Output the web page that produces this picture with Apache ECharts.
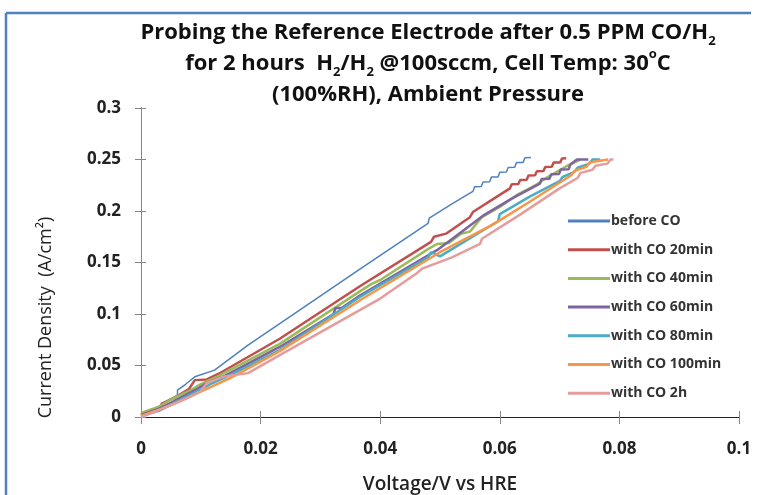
<!DOCTYPE html>
<html>
<head>
<meta charset="utf-8">
<title>Probing the Reference Electrode</title>
<script src="https://cdn.jsdelivr.net/npm/echarts@6/dist/echarts.min.js"></script>
<style>
  html, body { margin: 0; padding: 0; background: #fff; overflow: hidden; }
  #chart { width: 759px; height: 495px; }
</style>
</head>
<body>
<div id="chart"></div>
<script>
// series names (legend)
const seriesNames = ['before CO', 'with CO 20min', 'with CO 40min', 'with CO 60min',
  'with CO 80min', 'with CO 100min', 'with CO 2h'];
const seriesColors = ['#4F81BD', '#C0504D', '#9BBB59', '#8064A2', '#4BACC6', '#F79646', '#E59C9C'];

// [voltage (V), current density (A/cm2)]
const beforeCO = [[0, 0.0036], [0.002, 0.007], [0.004, 0.014], [0.0061, 0.0213], [0.0061, 0.026],
  [0.0075, 0.032], [0.009, 0.039], [0.0123, 0.0455], [0.0179, 0.0697], [0.0232, 0.0907],
  [0.0366, 0.1435], [0.048, 0.188], [0.0482, 0.193], [0.052, 0.207], [0.0555, 0.219],
  [0.0558, 0.2235], [0.0569, 0.2237], [0.0572, 0.2282], [0.0583, 0.2284], [0.0586, 0.2329],
  [0.0597, 0.2331], [0.06, 0.2376], [0.0611, 0.2378], [0.0614, 0.2423], [0.0625, 0.2425],
  [0.0628, 0.247], [0.0639, 0.2472], [0.0642, 0.2517], [0.0652, 0.252]];
const co20min = [[0, 0.002], [0.003, 0.008], [0.0035, 0.013], [0.006, 0.02], [0.008, 0.027],
  [0.009, 0.0358], [0.011, 0.0365], [0.013, 0.042], [0.0232, 0.076], [0.0366, 0.127],
  [0.0485, 0.17], [0.049, 0.175], [0.051, 0.178], [0.055, 0.194], [0.0555, 0.199],
  [0.059, 0.212], [0.0617, 0.222], [0.062, 0.226], [0.0631, 0.2262], [0.0634, 0.2302],
  [0.0645, 0.2304], [0.0648, 0.2344], [0.0659, 0.2346], [0.0662, 0.2386], [0.0673, 0.2388],
  [0.0676, 0.2428], [0.0687, 0.243], [0.069, 0.247], [0.0701, 0.2472], [0.0704, 0.251],
  [0.0711, 0.2512]];
const co40min = [[0, 0.004], [0.003, 0.01], [0.005, 0.017], [0.008, 0.025], [0.01, 0.032],
  [0.013, 0.04], [0.0232, 0.071], [0.0366, 0.122], [0.0385, 0.129], [0.04, 0.133],
  [0.048, 0.163], [0.0495, 0.168], [0.0515, 0.169], [0.0535, 0.178], [0.055, 0.18],
  [0.057, 0.194], [0.06, 0.204], [0.0631, 0.2165], [0.0653, 0.223], [0.0662, 0.226],
  [0.068, 0.233], [0.071, 0.243], [0.0735, 0.25]];
const co60min = [[0, 0.002], [0.003, 0.008], [0.006, 0.017], [0.009, 0.026], [0.011, 0.033],
  [0.014, 0.04], [0.0232, 0.068], [0.0322, 0.1], [0.0325, 0.1055], [0.0336, 0.106],
  [0.0366, 0.118], [0.0495, 0.162], [0.0572, 0.1955], [0.062, 0.212], [0.0667, 0.2265],
  [0.067, 0.231], [0.0683, 0.2312], [0.0686, 0.2357], [0.0699, 0.2359], [0.0702, 0.2404],
  [0.0715, 0.2406], [0.0718, 0.2451], [0.0729, 0.25], [0.0748, 0.25]];
const co80min = [[0, 0.001], [0.003, 0.006], [0.006, 0.015], [0.009, 0.024], [0.012, 0.033],
  [0.015, 0.041], [0.0232, 0.065], [0.0366, 0.1165], [0.048, 0.155], [0.0485, 0.16],
  [0.05, 0.156], [0.052, 0.163], [0.0597, 0.19], [0.06, 0.197], [0.065, 0.214],
  [0.07, 0.229], [0.0705, 0.233], [0.0725, 0.238], [0.073, 0.242], [0.075, 0.246],
  [0.0755, 0.25], [0.0768, 0.25]];
const co100min = [[0, 0.001], [0.003, 0.007], [0.006, 0.014], [0.009, 0.022], [0.012, 0.03],
  [0.015, 0.038], [0.0232, 0.064], [0.0371, 0.115], [0.05, 0.16], [0.0589, 0.187],
  [0.065, 0.209], [0.072, 0.235], [0.0725, 0.239], [0.0745, 0.243], [0.075, 0.247],
  [0.077, 0.249], [0.0781, 0.25]];
const co2h = [[0, 0], [0.001, 0.002], [0.003, 0.007], [0.006, 0.014], [0.008, 0.019],
  [0.01, 0.025], [0.011, 0.033], [0.0137, 0.039], [0.0179, 0.0426], [0.0232, 0.06],
  [0.04, 0.115], [0.046, 0.139], [0.047, 0.144], [0.052, 0.155], [0.0567, 0.168],
  [0.057, 0.173], [0.063, 0.195], [0.07, 0.222], [0.073, 0.232], [0.0735, 0.237],
  [0.0755, 0.24], [0.076, 0.244], [0.078, 0.246], [0.0785, 0.25], [0.079, 0.25]];

const seriesData = [beforeCO, co20min, co40min, co60min, co80min, co100min, co2h];
const lineWidths = [1.5, 2.5, 2.5, 2.5, 2.5, 2.5, 2.5];

const xTicks = { min: 0, max: 0.1, interval: 0.02 };
const yTicks = { min: 0, max: 0.3, interval: 0.05 };

const myChart = echarts.init(document.getElementById('chart'));
const font = 'Open Sans';
const axisGray = '#868686';
const frameBlue = '#4F81BD';

const option = {
  animation: false,
  backgroundColor: '#fff',
  // blue frame of the original figure (only top and left edges are in view)
  graphic: [{
    type: 'line',
    shape: { x1: 6, y1: 13, x2: 751, y2: 13 },
    style: { stroke: frameBlue, lineWidth: 2.5 },
    silent: true
  }, {
    type: 'line',
    shape: { x1: 6, y1: 13, x2: 6, y2: 495 },
    style: { stroke: frameBlue, lineWidth: 2.5 },
    silent: true
  }],
  title: {
    text: 'Probing the Reference Electrode after 0.5 PPM CO/H{sub|2}\n' +
      'for 2 hours  H{sub|2}/H{sub|2} @100sccm, Cell Temp: 30{sup|o}C\n' +
      '(100%RH), Ambient Pressure',
    left: 428,
    top: 17,
    textAlign: 'center',
    padding: 0,
    textStyle: {
      fontFamily: font, fontSize: 22, fontWeight: 'bold', color: '#111', lineHeight: 31,
      rich: {
        sub: { fontFamily: font, fontSize: 13, fontWeight: 'bold', color: '#111', verticalAlign: 'bottom', lineHeight: 31 },
        sup: { fontFamily: font, fontSize: 13, fontWeight: 'bold', color: '#111', verticalAlign: 'top', lineHeight: 31 }
      }
    }
  },
  legend: {
    orient: 'vertical',
    left: 563,
    top: 208,
    icon: 'rect',
    itemWidth: 42,
    itemHeight: 3,
    itemGap: 12.7,
    data: seriesNames,
    textStyle: { fontFamily: font, fontSize: 14, fontWeight: 'bold', color: '#333', lineHeight: 16, padding: [0, 0, 0, -4] }
  },
  grid: { left: 141, right: 20, top: 108, bottom: 78, outerBoundsMode: 'none' },
  xAxis: [{
    type: 'value',
    min: xTicks.min, max: xTicks.max, interval: xTicks.interval,
    position: 'bottom',
    name: 'Voltage/V vs HRE',
    nameLocation: 'middle',
    nameGap: 58,
    nameTextStyle: { fontFamily: font, fontSize: 19, fontWeight: 600, color: '#222' },
    axisLine: { lineStyle: { color: axisGray, width: 1 } },
    axisTick: { inside: false, length: 7, lineStyle: { color: axisGray } },
    axisLabel: { fontFamily: font, fontSize: 17, fontWeight: 'bold', color: '#222', margin: 24 },
    splitLine: { show: false }
  }, {
    type: 'value',
    min: xTicks.min, max: xTicks.max, interval: xTicks.interval,
    position: 'bottom',
    axisLine: { show: false },
    axisTick: { inside: true, length: 6, lineStyle: { color: axisGray } },
    axisLabel: { show: false },
    splitLine: { show: false }
  }, {
    type: 'value',
    min: xTicks.min, max: xTicks.max,
    position: 'top',
    axisLine: { lineStyle: { color: '#222', width: 1 } },
    axisTick: { show: false },
    axisLabel: { show: false },
    splitLine: { show: false }
  }],
  yAxis: [{
    type: 'value',
    min: yTicks.min, max: yTicks.max, interval: yTicks.interval,
    position: 'left',
    name: 'Current Density  (A/cm²)',
    nameLocation: 'middle',
    nameGap: 86,
    nameTextStyle: { fontFamily: font, fontSize: 18, color: '#222', padding: [0, 110, 0, 0] },
    axisLine: { show: true, lineStyle: { color: axisGray, width: 1 } },
    axisTick: { show: true, inside: false, length: 6, lineStyle: { color: axisGray } },
    axisLabel: { fontFamily: font, fontSize: 17, fontWeight: 'bold', color: '#222', margin: 20 },
    splitLine: { show: false }
  }, {
    type: 'value',
    min: yTicks.min, max: yTicks.max, interval: yTicks.interval,
    position: 'left',
    axisLine: { show: false },
    axisTick: { show: true, inside: true, length: 5, lineStyle: { color: axisGray } },
    axisLabel: { show: false },
    splitLine: { show: false }
  }, {
    type: 'value',
    min: yTicks.min, max: yTicks.max,
    position: 'right',
    axisLine: { show: true, lineStyle: { color: axisGray, width: 1 } },
    axisTick: { show: false },
    axisLabel: { show: false },
    splitLine: { show: false }
  }],
  series: seriesNames.map(function (name, i) {
    return {
      name: name,
      type: 'line',
      xAxisIndex: 0,
      yAxisIndex: 0,
      symbol: 'none',
      color: seriesColors[i],
      lineStyle: { width: lineWidths[i], color: seriesColors[i] },
      data: seriesData[i]
    };
  })
};
myChart.setOption(option);
window.addEventListener('resize', function () {
  myChart.resize();
});
</script>
</body>
</html>
